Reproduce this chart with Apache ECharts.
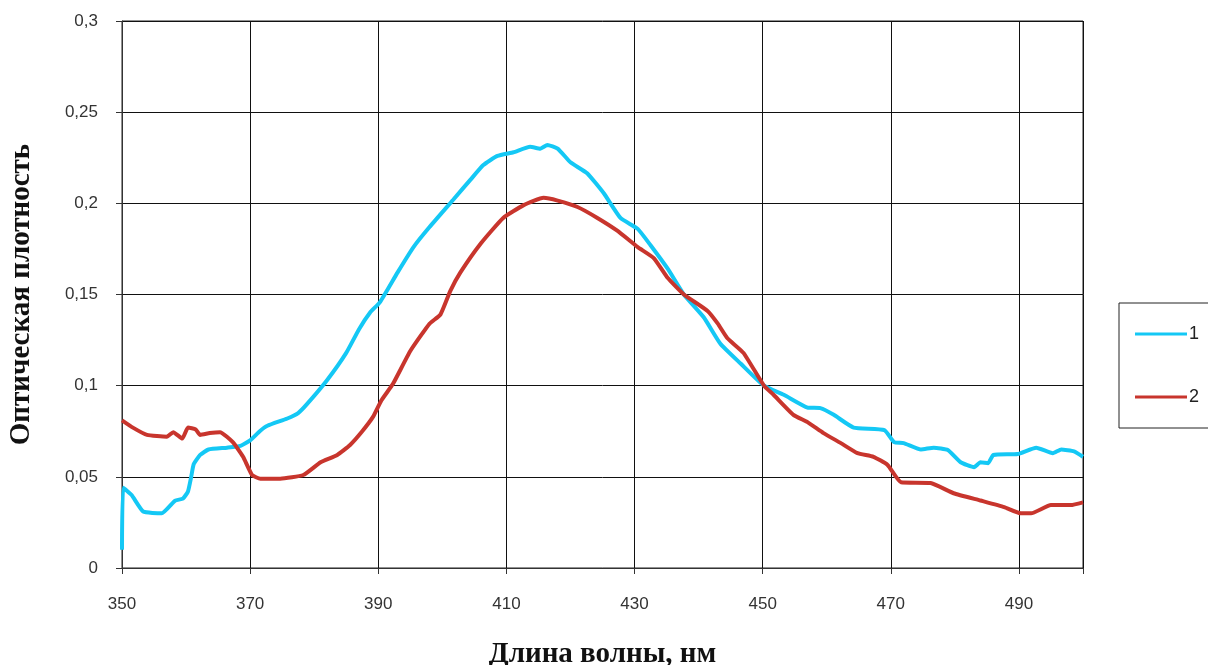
<!DOCTYPE html>
<html>
<head>
<meta charset="utf-8">
<script src="https://cdn.jsdelivr.net/npm/echarts@6/dist/echarts.min.js"></script>
<style>
  html, body { margin: 0; padding: 0; background: #fff; }
  #chart { width: 1208px; height: 665px; }
</style>
</head>
<body>
<div id="chart"></div>
<script>
// кривая 1 (голубая)
const wl1 = [350, 350.2, 351.5, 353.3, 356.2, 358.3, 359.5, 360.3, 360.8, 361.2, 362.2, 363.5, 366.4, 368.5,
  370, 371.5, 372.7, 375.8, 377.5, 378.9, 382, 385, 387, 388.7, 390.3, 393, 395.5, 398, 401.7, 404.4,
  406.4, 408.6, 411.1, 413.7, 415.3, 416.4, 418, 420, 422.6, 425.2, 427.8, 430.5, 432.5, 435.2, 437.7,
  440.8, 443.4, 446.6, 450.2, 453.3, 457, 459, 461.1, 464.2, 469, 470.5, 472, 474.7, 476.7, 478.9,
  480.9, 483, 484, 485.2, 486, 489.8, 492.7, 495.3, 496.6, 498.6, 500];
const od1 = [0.01, 0.044, 0.040, 0.031, 0.030, 0.037, 0.038, 0.042, 0.050, 0.057, 0.062, 0.065, 0.066, 0.067,
  0.070, 0.075, 0.078, 0.082, 0.085, 0.090, 0.103, 0.118, 0.131, 0.140, 0.146, 0.162, 0.176, 0.187, 0.202, 0.213,
  0.221, 0.226, 0.228, 0.231, 0.230, 0.232, 0.230, 0.2225, 0.2165, 0.2055, 0.192, 0.186, 0.177, 0.164, 0.150,
  0.1375, 0.123, 0.112, 0.100, 0.095, 0.088, 0.0877, 0.084, 0.077, 0.0756, 0.069, 0.0685, 0.065, 0.066, 0.0647,
  0.058, 0.0553, 0.058, 0.0575, 0.062, 0.0625, 0.066, 0.063, 0.065, 0.064, 0.061];

// кривая 2 (красная)
const wl2 = [350, 351.7, 353.9, 357, 358, 359.4, 360.3, 361.5, 362.2, 363.7, 365.3, 367.3, 368.9, 370.3,
  371.6, 374.7, 378.3, 381, 383.6, 385.6, 387.5, 389.2, 390.5, 392.3, 395, 398, 399.7, 401.25, 402.8, 406,
  409.5, 412.7, 415.8, 418, 421.1, 424.2, 427.3, 430.5, 433, 435.2, 437.7, 441.4, 443, 444.5, 447, 450.2,
  451.7, 454.8, 457, 459.5, 462.2, 464.8, 467.3, 469.5, 471.6, 476.2, 479.8, 484, 487.7, 490.3, 491.9,
  495, 498.1, 500];
const od2 = [0.081, 0.077, 0.073, 0.072, 0.0745, 0.071, 0.077, 0.076, 0.073, 0.074, 0.0745, 0.069, 0.061, 0.051,
  0.049, 0.049, 0.051, 0.058, 0.062, 0.0675, 0.075, 0.083, 0.092, 0.101, 0.119, 0.134, 0.139, 0.152, 0.162, 0.178,
  0.192, 0.199, 0.203, 0.2015, 0.198, 0.192, 0.185, 0.176, 0.170, 0.159, 0.150, 0.141, 0.134, 0.126, 0.118, 0.100,
  0.095, 0.084, 0.080, 0.074, 0.0685, 0.063, 0.061, 0.0565, 0.047, 0.0466, 0.041, 0.037, 0.0334, 0.030, 0.030,
  0.0345, 0.0345, 0.036];

const seriesNames = ["1", "2"];
const xTicks = { min: 350, max: 500, step: 20 };
const yTicks = { min: 0, max: 0.3, step: 0.05 };

const pairs = (xs, ys) => xs.map((x, i) => [x, ys[i]]);

const chart = echarts.init(document.getElementById("chart"));
chart.setOption({
  animation: false,
  backgroundColor: "#fff",
  grid: {
    left: 122, right: 125, top: 21, bottom: 97,
    outerBoundsMode: "none",
    containLabel: false,
    show: true, borderColor: "#222", borderWidth: 1
  },
  legend: {
    orient: "vertical",
    left: 1119, top: 303,
    padding: [22, 40, 22, 16],
    itemGap: 45,
    icon: "rect",
    itemWidth: 52, itemHeight: 3,
    borderColor: "#222", borderWidth: 1,
    textStyle: { fontFamily: "Liberation Sans, Arial", fontSize: 18, color: "#222", padding: [0, 0, 0, -3] },
    data: seriesNames
  },
  xAxis: {
    type: "value",
    min: xTicks.min, max: xTicks.max, interval: xTicks.step,
    name: "Длина волны, нм",
    nameLocation: "middle",
    nameGap: 72,
    nameTextStyle: { fontFamily: "Liberation Serif, Times New Roman", fontWeight: "bold", fontSize: 29, color: "#111" },
    axisLine: { onZero: false, lineStyle: { color: "#333", width: 1 } },
    axisTick: { show: true, inside: false, length: 6, lineStyle: { color: "#333" } },
    axisLabel: {
      margin: 28, fontFamily: "Liberation Sans, Arial", fontSize: 17, color: "#333",
      formatter: v => (v >= xTicks.max ? "" : String(v))
    },
    splitLine: { show: true, lineStyle: { color: "#111", width: 1 } }
  },
  yAxis: {
    type: "value",
    min: yTicks.min, max: yTicks.max, interval: yTicks.step,
    name: "Оптическая плотность",
    nameLocation: "middle",
    nameGap: 86,
    nameRotate: 90,
    nameTextStyle: { fontFamily: "Liberation Serif, Times New Roman", fontWeight: "bold", fontSize: 29, color: "#111" },
    axisLine: { show: true, lineStyle: { color: "#333", width: 1 } },
    axisTick: { show: true, inside: false, length: 6, lineStyle: { color: "#333" } },
    axisLabel: {
      margin: 24, fontFamily: "Liberation Sans, Arial", fontSize: 17, color: "#333",
      formatter: v => String(+v.toFixed(2)).replace(".", ",")
    },
    splitLine: { show: true, lineStyle: { color: "#111", width: 1 } }
  },
  series: [
    {
      name: seriesNames[0], type: "line", symbol: "none", smooth: 0.15,
      lineStyle: { color: "#14C8F5", width: 4 }, itemStyle: { color: "#14C8F5" },
      data: pairs(wl1, od1)
    },
    {
      name: seriesNames[1], type: "line", symbol: "none", smooth: 0.15,
      lineStyle: { color: "#C8352D", width: 4 }, itemStyle: { color: "#C8352D" },
      data: pairs(wl2, od2)
    }
  ]
});
</script>
</body>
</html>
